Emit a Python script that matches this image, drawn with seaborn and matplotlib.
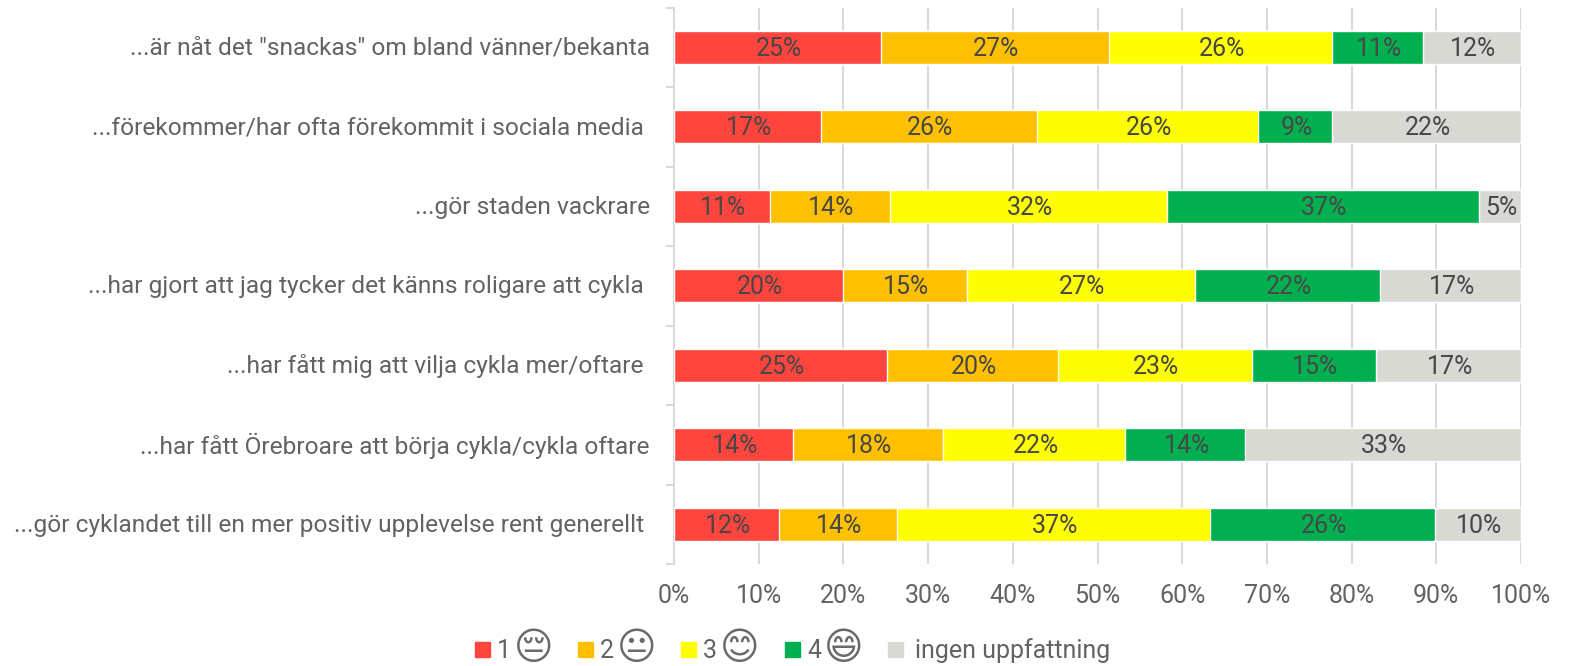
#!/usr/bin/env python3
# -*- coding: utf-8 -*-
import numpy as np
import pandas as pd
import matplotlib
matplotlib.use("Agg")
import matplotlib.pyplot as plt
from matplotlib.patches import Rectangle
from matplotlib.transforms import ScaledTranslation
import seaborn as sns

W, H = 1572, 666

categories = [
    '...är nåt det "snackas" om bland vänner/bekanta',
    "...förekommer/har ofta förekommit i sociala media ",
    "...gör staden vackrare",
    "...har gjort att jag tycker det känns roligare att cykla ",
    "...har fått mig att vilja cykla mer/oftare ",
    "...har fått Örebroare att börja cykla/cykla oftare",
    "...gör cyklandet till en mer positiv upplevelse rent generellt ",
]
val_1 = [24.4, 17.3, 11.3, 19.9, 25.2, 14.0, 12.4]
val_2 = [26.9, 25.6, 14.2, 14.7, 20.1, 17.8, 13.9]
val_3 = [26.4, 26.1, 32.7, 26.9, 22.9, 21.5, 37.0]
val_4 = [10.7, 8.7, 36.8, 21.8, 14.7, 14.1, 26.5]
val_5 = [11.6, 22.3, 5.0, 16.7, 17.1, 32.6, 10.2]

lab_1 = ["25%", "17%", "11%", "20%", "25%", "14%", "12%"]
lab_2 = ["27%", "26%", "14%", "15%", "20%", "18%", "14%"]
lab_3 = ["26%", "26%", "32%", "27%", "23%", "22%", "37%"]
lab_4 = ["11%", "9%", "37%", "22%", "15%", "14%", "26%"]
lab_5 = ["12%", "22%", "5%", "17%", "17%", "33%", "10%"]

colors = ["#FF453D", "#FFC000", "#FFFF00", "#00B050", "#D9D9D4"]
legend_names = ["1", "2", "3", "4", "ingen uppfattning"]
legend_faces = ["\U0001F614", "\U0001F610", "\U0001F60A", "\U0001F604", ""]

GRID = "#D9D9D9"
TEXT = "#636363"
LABEL = "#474747"
FAMILY = ["Roboto", "DejaVu Sans"]
SIZE = 25

sns.set_theme(style="white")
plt.rcParams["font.family"] = FAMILY


def px(n):
    return n * 72 / 100


values = np.array([val_1, val_2, val_3, val_4, val_5])
labels = [lab_1, lab_2, lab_3, lab_4, lab_5]
cum = values.cumsum(axis=0)

fig = plt.figure(figsize=(W / 100, H / 100), dpi=100)
ax = fig.add_axes([674 / W, 1 - 564 / H, (1521 - 674) / W, (564 - 7.5) / H])

# stacked bars: draw the running totals from the longest to the shortest
for i in range(4, -1, -1):
    df = pd.DataFrame({"cat": categories, "cum": cum[i]})
    sns.barplot(data=df, x="cum", y="cat", color=colors[i], saturation=1,
                width=0.415, ax=ax, zorder=3, orient="h")

for i in range(5):
    starts = cum[i] - values[i]
    for j in range(len(categories)):
        ax.annotate(labels[i][j], (starts[j] + values[i][j] / 2, j), xytext=(px(1.5), -px(1.5)),
                    textcoords="offset points", ha="center", va="center",
                    fontsize=px(SIZE), color=LABEL, zorder=4)

ax.set_xlim(0, 100)
ax.set_ylim(6.5, -0.5)
ax.set_xlabel("")
ax.set_ylabel("")
ax.set_xticks(np.arange(0, 101, 10))
ax.set_xticklabels([f"{t}%" for t in range(0, 101, 10)], fontsize=px(SIZE), color=TEXT)
ax.tick_params(axis="x", length=0, pad=px(20))
ax.set_yticks(np.arange(7))
ax.set_yticklabels(categories, fontsize=px(24.5), color=TEXT)
ax.tick_params(axis="y", which="major", length=0, pad=px(24))
ax.set_yticks(np.arange(-0.5, 7), minor=True)
ax.tick_params(axis="y", which="minor", left=True, length=px(8), width=px(2), color=GRID)
# nudge the row labels up a little
for t in ax.get_yticklabels():
    t.set_transform(t.get_transform() + ScaledTranslation(0, 1.5 / 100, fig.dpi_scale_trans))
ax.grid(axis="x", color=GRID, linewidth=px(2), zorder=0)
ax.set_axisbelow(True)
for side in ["top", "right", "bottom"]:
    ax.spines[side].set_visible(False)
ax.spines["left"].set_color(GRID)
ax.spines["left"].set_linewidth(px(2))

# legend with the smiley faces next to the keys
key_x = [475, 578, 681, 785, 888]
text_gap = [22, 22, 22, 22, 27]
for x, gap, c, name, face in zip(key_x, text_gap, colors, legend_names, legend_faces):
    fig.add_artist(Rectangle((x / W, 1 - 657 / H), 15 / W, 15 / H, color=c,
                             transform=fig.transFigure))
    fig.text((x + gap) / W, 1 - 650.5 / H, name, fontsize=px(SIZE), color=TEXT, va="center",
             ha="left")
    if face:
        fig.text((x + 59) / W, 1 - 649 / H, face, fontsize=px(38), color="#6A6A6A", va="center",
                 ha="center", family="DejaVu Sans")

fig.savefig("out.png", dpi=100)
